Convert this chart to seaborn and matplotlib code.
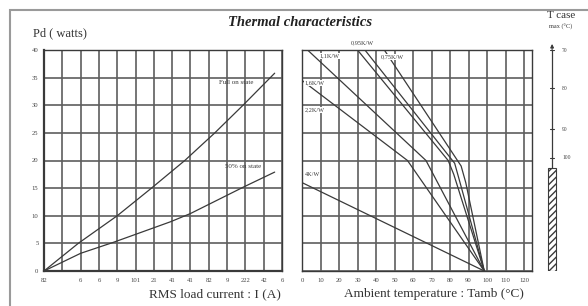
import matplotlib
matplotlib.use("Agg")
import matplotlib.pyplot as plt
from matplotlib.patches import Rectangle
import seaborn as sns
import pandas as pd

# Left chart: power dissipation vs RMS load current (x in tick-index units)
current_tick_labels = ['82', '', '6', '6', '9', '101', '21', '41', '41', '82', '9', '222', '42', '6']
full_on_x = [0, 1.87, 4.0, 5.87, 7.69, 9.33, 10.87, 12.6]
full_on_pd = [0, 5, 10, 15, 20, 25, 30, 35.8]
half_on_x = [0, 2.0, 3.8, 6.9, 8.0, 10.9, 12.6]
half_on_pd = [0, 3.2, 5.2, 8.9, 10.4, 15.2, 17.9]

# Right chart: power dissipation vs ambient temperature for each heatsink Rth
rth_names = ['0,75K/W', '0,95K/W', '1,1K/W', '1,6K/W', '2,2K/W', '4K/W']
rth_tamb = [
    [44.5, 86, 88.5, 98.5],
    [34, 82.5, 85, 98.5],
    [30, 79, 82, 98.5],
    [3, 67, 98.5],
    [0, 57, 98.5],
    [0, 98.5],
]
rth_pd = [
    [40, 19, 16, 0],
    [40, 19.5, 16.5, 0],
    [40, 20, 17.5, 0],
    [40, 20, 0],
    [34.5, 20, 0],
    [16, 0],
]

# T case max scale
tcase_labels = ['70', '80', '90', '100']
tcase_pd = [40, 33.1, 25.7, 20.5]
hatched_top = 18.6

sns.set_style("white")
plt.rcParams['font.family'] = ['Liberation Serif', 'DejaVu Serif']

ink = '#3a3a3a'
gridc = '#5e5e5e'

fig = plt.figure(figsize=(5.88, 3.06), dpi=100)
W, H = 588, 306

def box(x0, x1, y0, y1):
    return [x0 / W, 1 - y1 / H, (x1 - x0) / W, (y1 - y0) / H]

ax1 = fig.add_axes(box(44, 282, 50, 271))
ax2 = fig.add_axes(box(302, 532, 50, 271))
ax3 = fig.add_axes(box(538, 568, 50, 271))

# --- left chart
df_full = pd.DataFrame({'x': full_on_x, 'pd': full_on_pd})
df_half = pd.DataFrame({'x': half_on_x, 'pd': half_on_pd})
sns.lineplot(data=df_full, x='x', y='pd', ax=ax1, color=ink, lw=0.9, sort=False)
sns.lineplot(data=df_half, x='x', y='pd', ax=ax1, color=ink, lw=0.9, sort=False)
ax1.set_xlim(0, 13)
ax1.set_ylim(0, 40)
ax1.set_xticks(range(14))
ax1.set_xticklabels(current_tick_labels)
ax1.set_yticks(range(0, 41, 5))
ax1.text(10.5, 34.2, 'Full on state', fontsize=5, ha='center', va='center', color=ink)
ax1.text(10.9, 19.0, '50% on state', fontsize=5, ha='center', va='center', color=ink)

# --- right chart
for name, xs, ys in zip(rth_names, rth_tamb, rth_pd):
    d = pd.DataFrame({'tamb': xs, 'pd': ys})
    sns.lineplot(data=d, x='tamb', y='pd', ax=ax2, color=ink, lw=0.9, sort=False)
ax2.set_xlim(0, 124.3)
ax2.set_ylim(0, 40)
ax2.set_xticks(range(0, 121, 10))
ax2.set_yticks(range(0, 41, 5))
ax2.set_yticklabels([])
lab_pos = {'0,95K/W': (32.4, 41.3, 'center'), '1,1K/W': (15.1, 38.9, 'center'),
           '0,75K/W': (48.6, 38.7, 'center'), '1,6K/W': (1.5, 34.0, 'left'),
           '2,2K/W': (1.5, 29.1, 'left'), '4K/W': (1.5, 17.4, 'left')}
for name in rth_names:
    x, y, ha = lab_pos[name]
    ax2.text(x, y, name, fontsize=4.5, ha=ha, va='center', color=ink, clip_on=False,
             bbox=dict(facecolor='white', edgecolor='none', pad=0.3))

for ax in (ax1, ax2):
    ax.grid(True, color=gridc, lw=1.2)
    ax.set_axisbelow(True)
    ax.set_xlabel('')
    ax.set_ylabel('')
    for s in ax.spines.values():
        s.set_color(ink)
        s.set_linewidth(1.0)
    ax.tick_params(axis='both', labelsize=4.8, length=2, width=0.8, color=ink,
                   labelcolor='#444444', pad=2)
    ax.tick_params(axis='x', pad=3)
ax2.tick_params(axis='y', length=0)
ax1.spines['left'].set_linewidth(1.6)
ax1.spines['bottom'].set_linewidth(1.6)

# --- T case max scale
ax3.set_xlim(0, 1)
ax3.set_ylim(0, 40)
ax3.axis('off')
ax3.plot([0.47, 0.47], [hatched_top, 40.5], color=ink, lw=0.9)
ax3.annotate('', xy=(0.47, 41.6), xytext=(0.47, 39.5),
             arrowprops=dict(arrowstyle='-|>', color=ink, lw=0.8, mutation_scale=5),
             annotation_clip=False)
for lab, p in zip(tcase_labels, tcase_pd):
    ax3.plot([0.4, 0.54], [p, p], color=ink, lw=0.8)
    ax3.text(0.8, p, lab, fontsize=4, ha='left', va='center', color='#444444')
ax3.bar(0.47, hatched_top, width=0.27, bottom=0, color='white',
        edgecolor=ink, hatch='/////', lw=0.8)

# --- texts
fig.text(300 / W, 1 - 22 / H, 'Thermal characteristics', fontsize=10.5,
         fontweight='bold', fontstyle='italic', ha='center', va='center', color='#222222')
fig.text(33 / W, 1 - 33 / H, 'Pd ( watts)', fontsize=9, ha='left', va='center', color='#333333')
fig.text(215 / W, 1 - 294 / H, 'RMS load current : I (A)', fontsize=9.5,
         ha='center', va='center', color='#333333')
fig.text(434 / W, 1 - 294 / H, 'Ambient temperature : Tamb (°C)', fontsize=9.5,
         ha='center', va='center', color='#333333')
fig.text(561 / W, 1 - 16 / H, 'T case', fontsize=8, ha='center', va='center', color='#333333')
fig.text(561 / W, 1 - 27 / H, 'max (°C)', fontsize=4.5, ha='center', va='center', color='#333333')

# page frame
fig.add_artist(Rectangle((10 / W, -0.5), 2, 0.5 + 1 - 10 / H, transform=fig.transFigure,
                         fill=False, edgecolor='#9a9a9a', lw=1.5))

fig.savefig('out.png', dpi=100)
